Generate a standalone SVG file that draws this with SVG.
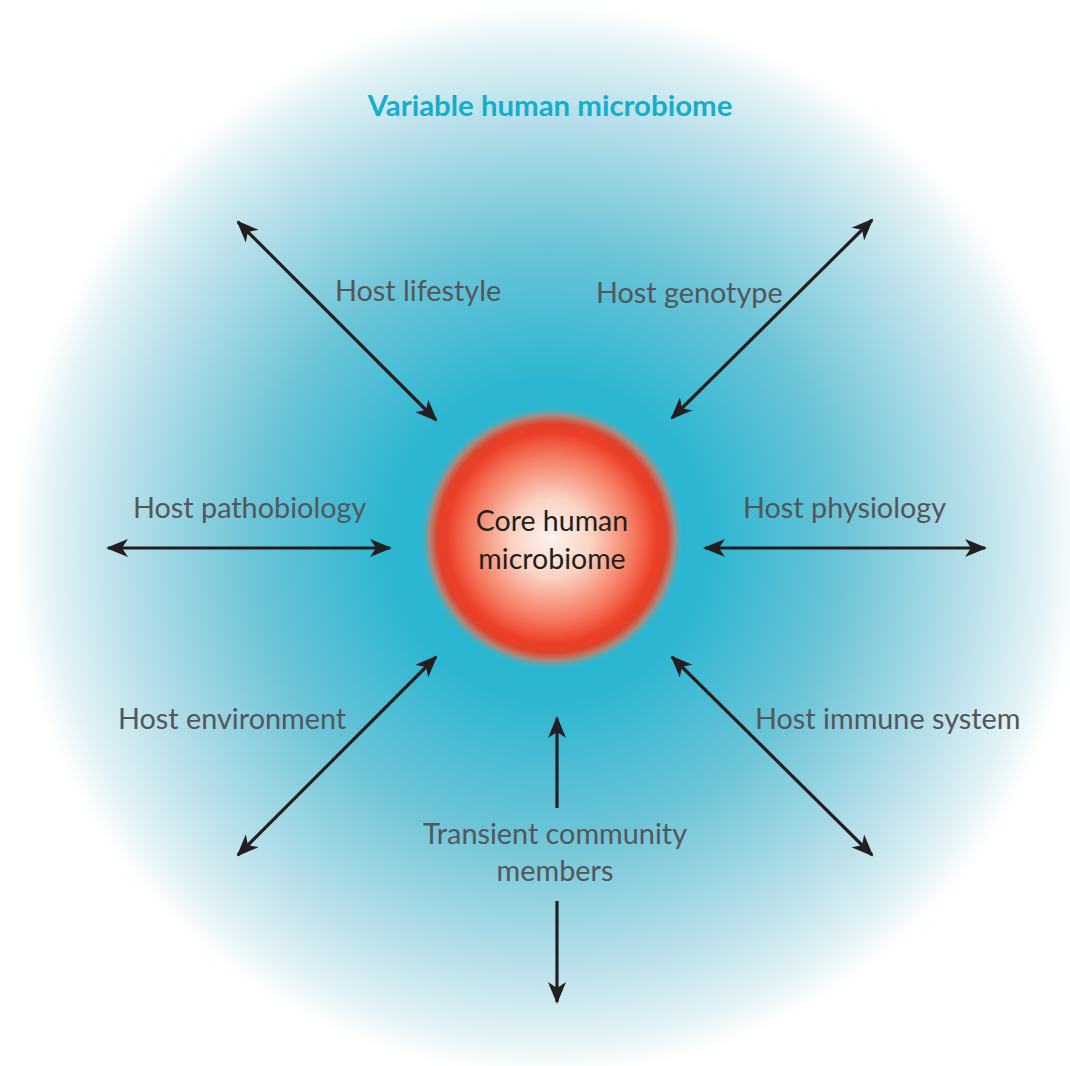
<svg xmlns="http://www.w3.org/2000/svg" width="1070" height="1066" viewBox="0 0 1070 1066">
<defs>
<radialGradient id="bg" cx="548" cy="540" r="535" gradientUnits="userSpaceOnUse">
<stop offset="0" stop-color="#1bb6d3"/>
<stop offset="0.3" stop-color="#2db6d1"/>
<stop offset="0.55" stop-color="#6cc4d7"/>
<stop offset="0.8" stop-color="#b9e0ea"/>
<stop offset="0.93" stop-color="#e2f2f6"/>
<stop offset="1" stop-color="#ffffff"/>
</radialGradient>
<radialGradient id="core" cx="552" cy="538" r="132" gradientUnits="userSpaceOnUse">
<stop offset="0" stop-color="#fdf3ee"/>
<stop offset="0.3" stop-color="#fad3c4"/>
<stop offset="0.62" stop-color="#f47a5e"/>
<stop offset="0.8" stop-color="#ec3f27"/>
<stop offset="0.87" stop-color="#e2412b"/>
<stop offset="0.93" stop-color="#c4806c" stop-opacity="0.85"/>
<stop offset="1" stop-color="#3cb8d0" stop-opacity="0"/>
</radialGradient>
<marker id="ah" viewBox="0 0 22 18" refX="20" refY="9" markerWidth="22" markerHeight="18" markerUnits="userSpaceOnUse" orient="auto-start-reverse">
<path d="M0,0 L22,9 L0,18 L6,9 z" fill="#231f20"/>
</marker>
</defs>
<style>
.lbl{font-family:"Lato","Open Sans","Liberation Sans",sans-serif;font-size:28.8px;font-weight:400;fill:#53565a;}
.core{font-family:"Lato","Open Sans","Liberation Sans",sans-serif;font-size:28.5px;font-weight:400;fill:#231f20;text-anchor:middle;}
.title{font-family:"Lato","Open Sans","Liberation Sans",sans-serif;font-size:29.4px;font-weight:bold;fill:#12aecb;text-anchor:middle;}
.arr{stroke:#231f20;stroke-width:3.2;fill:none;marker-start:url(#ah);marker-end:url(#ah);}
.arr1{stroke:#231f20;stroke-width:3.2;fill:none;marker-end:url(#ah);}
</style>
<rect width="1070" height="1066" fill="#ffffff"/>
<circle cx="548" cy="540" r="535" fill="url(#bg)"/>
<g id="variable">
<text class="title" x="550" y="116">Variable human microbiome</text>
</g>
<g id="core-node">
<circle cx="552" cy="538" r="132" fill="url(#core)"/>
<text class="core" x="552" y="531">Core human</text>
<text class="core" x="552" y="569">microbiome</text>
</g>
<g id="connectors">
<line class="arr" x1="238" y1="222" x2="436" y2="420"/>
<line class="arr" x1="872" y1="220" x2="672" y2="418"/>
<line class="arr" x1="108" y1="548" x2="390" y2="548"/>
<line class="arr" x1="705" y1="548" x2="985" y2="548"/>
<line class="arr" x1="238" y1="855" x2="436" y2="657"/>
<line class="arr" x1="672" y1="657" x2="872" y2="855"/>
<line class="arr1" x1="557" y1="808" x2="557" y2="718"/>
<line class="arr1" x1="557" y1="901" x2="557" y2="1002"/>
</g>
<g id="host-lifestyle"><text class="lbl" x="335" y="301">Host lifestyle</text></g>
<g id="host-genotype"><text class="lbl" x="596" y="303">Host genotype</text></g>
<g id="host-pathobiology"><text class="lbl" x="133" y="518">Host pathobiology</text></g>
<g id="host-physiology"><text class="lbl" x="743" y="518">Host physiology</text></g>
<g id="host-environment"><text class="lbl" x="118" y="729">Host environment</text></g>
<g id="host-immune"><text class="lbl" x="755" y="729">Host immune system</text></g>
<g id="transient">
<text class="lbl" x="555" y="844" text-anchor="middle">Transient community</text>
<text class="lbl" x="555" y="881" text-anchor="middle">members</text>
</g>
</svg>
